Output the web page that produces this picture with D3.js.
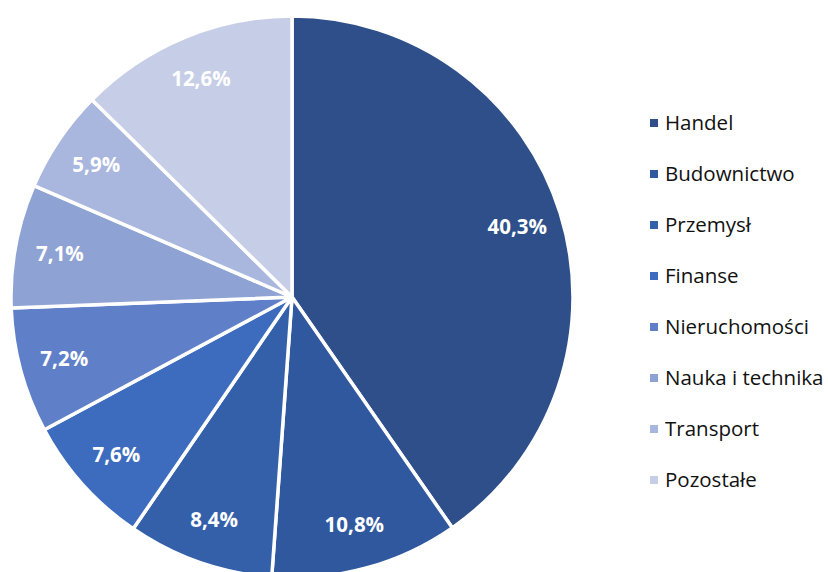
<!DOCTYPE html>
<html><head><meta charset="utf-8">
<script src="https://cdn.jsdelivr.net/npm/d3@7"></script>
<style>body{margin:0;background:#fff;}svg{display:block;}</style>
</head><body>
<script>
const categories = ["Handel","Budownictwo","Przemysł","Finanse","Nieruchomości","Nauka i technika","Transport","Pozostałe"];
const values = [40.3,10.8,8.4,7.6,7.2,7.1,5.9,12.6];
const labels = ["40,3%","10,8%","8,4%","7,6%","7,2%","7,1%","5,9%","12,6%"];
const colors = ["#2e4f8a","#30589f","#3460aa","#3d6cbf","#5f80c8","#8fa2d4","#a9b6de","#c6cee7"];

const W=828,H=572;
const svg=d3.select("body").append("svg").attr("width",W).attr("height",H);
const cx=292, cy=297, r=281;
const pie=d3.pie().sort(null).value(d=>d)(values);
const arc=d3.arc().innerRadius(0).outerRadius(r);
const g=svg.append("g").attr("transform",`translate(${cx},${cy})`);
g.selectAll("path").data(pie).join("path")
 .attr("d",arc).attr("fill",(d,i)=>colors[i])
 .attr("stroke","#fff").attr("stroke-width",3.5).attr("stroke-linejoin","round");
const larc=d3.arc().innerRadius(r*0.84).outerRadius(r*0.84);
g.selectAll("text").data(pie).join("text")
 .attr("transform",d=>`translate(${larc.centroid(d)})`)
 .attr("text-anchor","middle").attr("dy","0.35em")
 .attr("fill","#fff").attr("font-family","'Open Sans', sans-serif").attr("font-weight","bold").attr("font-size",20.5)
 .text((d,i)=>labels[i]);

const y=d3.scalePoint().domain(categories).range([123,480]);
const lg=svg.append("g");
const items=lg.selectAll("g").data(categories).join("g").attr("transform",d=>`translate(650,${y(d)})`);
items.append("rect").attr("x",0).attr("y",-4).attr("width",8).attr("height",8).attr("fill",(d,i)=>colors[i]);
items.append("text").attr("x",15).attr("dy","0.35em").attr("font-family","'Open Sans', sans-serif").attr("font-size",20.5).attr("fill","#111").text(d=>d);
</script>
</body></html>
